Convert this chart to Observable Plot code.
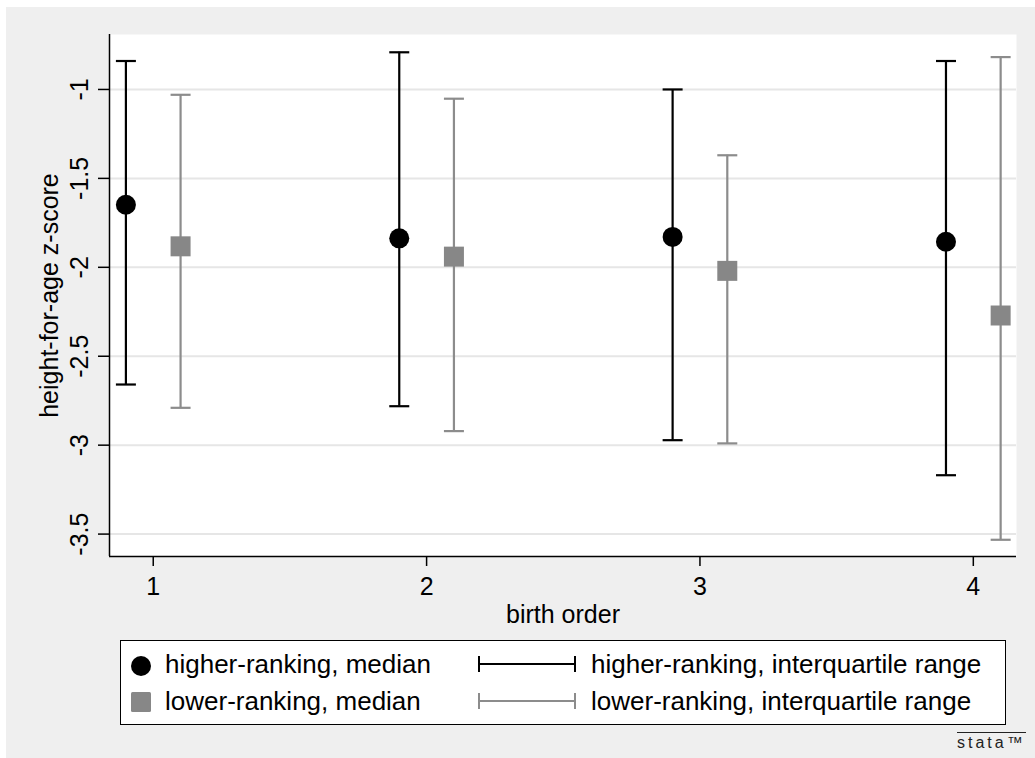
<!DOCTYPE html>
<html><head><meta charset="utf-8">
<script src="https://cdn.jsdelivr.net/npm/d3@7"></script>
<script src="https://cdn.jsdelivr.net/npm/@observablehq/plot@0.6"></script>
<style>
body{margin:0;background:#fff;font-family:"Liberation Sans",Arial,Helvetica,sans-serif;}
#wrap{position:relative;width:1035px;height:758px;overflow:hidden;}
#bg{position:absolute;left:6px;top:7px;right:0;bottom:0;background:#efefef;}
#chart{position:absolute;left:0;top:0;}
#legend{position:absolute;left:120px;top:640px;width:886px;height:85px;box-sizing:border-box;border:1.5px solid #000;background:#fff;}
.item{position:absolute;font-size:26px;line-height:30px;color:#000;white-space:nowrap;}
.sym{position:absolute;}
#logo{position:absolute;left:957px;top:732px;font-size:16px;letter-spacing:3px;color:#222;border-top:1.2px solid #222;line-height:16px;padding-top:2px;}
</style></head><body>
<div id="wrap"><div id="bg"></div><div id="chart"></div>
<div id="legend"></div>
<div id="logo">stata™</div>
</div>
<script>
const birthOrder = [1, 2, 3, 4];
const higherMedian = [-1.648, -1.837, -1.829, -1.856];
const higherP25 = [-2.659, -2.781, -2.972, -3.169];
const higherP75 = [-0.840, -0.791, -1.000, -0.840];
const lowerMedian = [-1.882, -1.940, -2.020, -2.271];
const lowerP25 = [-2.790, -2.921, -2.990, -3.532];
const lowerP75 = [-1.030, -1.052, -1.370, -0.818];
const yTicks = [-1, -1.5, -2, -2.5, -3, -3.5];
const xTicks = [1, 2, 3, 4];
const seriesNames = ["higher-ranking, median", "lower-ranking, median", "higher-ranking, interquartile range", "lower-ranking, interquartile range"];

const BLACK = "#000000", GRAY = "#878787", LINEGRAY = "#8c8c8c";
const offset = 0.1;
const higher = birthOrder.map((b, i) => ({x: b - offset, median: higherMedian[i], p25: higherP25[i], p75: higherP75[i]}));
const lower = birthOrder.map((b, i) => ({x: b + offset, median: lowerMedian[i], p25: lowerP25[i], p75: lowerP75[i]}));
const xDomain = [0.84, 4.158], yDomain = [-3.626, -0.691];

const capSymbol = {draw(ctx, size) { const w = Math.sqrt(size / Math.PI); ctx.moveTo(-w, 0); ctx.lineTo(w, 0); }};

function series(data, color, lineColor, symbol, r) {
  return [
    Plot.ruleX(data, {x: "x", y1: "p25", y2: "p75", stroke: lineColor, strokeWidth: 2.2}),
    Plot.dot(data, {x: "x", y: "p25", symbol: capSymbol, r: 10, stroke: lineColor, strokeWidth: 2.2}),
    Plot.dot(data, {x: "x", y: "p75", symbol: capSymbol, r: 10, stroke: lineColor, strokeWidth: 2.2}),
    Plot.dot(data, {x: "x", y: "median", symbol, r, fill: color, stroke: "none"})
  ];
}

const chart = Plot.plot({
  width: 1035, height: 640,
  marginLeft: 109, marginRight: 19, marginTop: 34, marginBottom: 84,
  style: {background: "transparent", fontFamily: "'Liberation Sans', Arial, Helvetica, sans-serif", fontSize: "25px", color: "#000"},
  x: {domain: xDomain},
  y: {domain: yDomain},
  marks: [
    Plot.frame({fill: "white", stroke: "none"}),
    Plot.gridY(yTicks, {stroke: "#e6e6e6", strokeOpacity: 1, strokeWidth: 2}),
    Plot.ruleX([xDomain[0]], {stroke: "#000", strokeWidth: 1.5}),
    Plot.ruleY([yDomain[0]], {stroke: "#000", strokeWidth: 1.5}),
    Plot.axisY(yTicks, {tickSize: 11, tickPadding: 11, tickRotate: -90, textAnchor: "middle", lineAnchor: "bottom",
      tickFormat: d => String(d), fontSize: 25, strokeWidth: 1.5,
      label: "height-for-age z-score", labelAnchor: "center", labelOffset: 69, labelArrow: "none"}),
    Plot.axisX(xTicks, {tickSize: 10, tickPadding: 11, tickFormat: d => String(d), fontSize: 25, strokeWidth: 1.5,
      label: "birth order", labelAnchor: "center", labelOffset: 66, labelArrow: "none"}),
    ...series(higher, BLACK, BLACK, "circle", 10),
    ...series(lower, GRAY, LINEGRAY, "square", 11.28)
  ]
});
document.getElementById("chart").appendChild(chart);

// legend
const lg = document.getElementById("legend");
function addItem(text, left, top) {
  const d = document.createElement("div"); d.className = "item"; d.textContent = text;
  d.style.left = left + "px"; d.style.top = top + "px"; lg.appendChild(d);
}
function addSvg(left, top, w, h, inner) {
  const s = document.createElementNS("http://www.w3.org/2000/svg", "svg");
  s.setAttribute("width", w); s.setAttribute("height", h); s.setAttribute("class", "sym");
  s.style.left = left + "px"; s.style.top = top + "px"; s.innerHTML = inner; lg.appendChild(s);
}
addSvg(8, 13, 24, 24, `<circle cx="12" cy="12" r="10" fill="${BLACK}"/>`);
addSvg(8, 49, 24, 24, `<rect x="2" y="2" width="20" height="20" rx="1.5" fill="${GRAY}"/>`);
addSvg(356, 12, 100, 22, `<path d="M2,11H98M2,3V19M98,3V19" stroke="${BLACK}" stroke-width="2" fill="none"/>`);
addSvg(356, 49, 100, 22, `<path d="M2,11H98M2,3V19M98,3V19" stroke="${LINEGRAY}" stroke-width="2" fill="none"/>`);
addItem(seriesNames[0], 44, 8);
addItem(seriesNames[1], 44, 45);
addItem(seriesNames[2], 470, 8);
addItem(seriesNames[3], 470, 45);
</script>
</body></html>
